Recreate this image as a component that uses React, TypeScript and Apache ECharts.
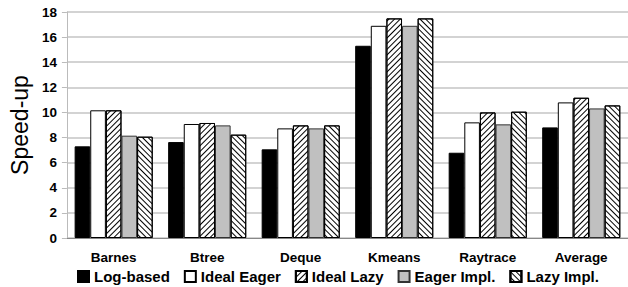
import React, { useEffect, useRef } from "react";
import * as echarts from "echarts";

const categories = ["Barnes", "Btree", "Deque", "Kmeans", "Raytrace", "Average"];
const logBased = [7.3, 7.64, 7.06, 15.31, 6.79, 8.81];
const idealEager = [10.17, 9.08, 8.73, 16.9, 9.21, 10.8];
const idealLazy = [10.17, 9.16, 8.97, 17.49, 10.0, 11.17];
const eagerImpl = [8.15, 8.97, 8.73, 16.9, 9.05, 10.32];
const lazyImpl = [8.07, 8.23, 8.97, 17.49, 10.06, 10.56];
const yTicks = [0, 2, 4, 6, 8, 10, 12, 14, 16, 18];

const FONT = "'Liberation Sans', Arial, sans-serif";

export default function App() {
  const ref = useRef<HTMLDivElement>(null);
  useEffect(() => {
    if (!ref.current) return;
    const chart = echarts.init(ref.current, null, { renderer: "svg" });
    const stripe = (rot: number) => ({
      symbol: "rect",
      symbolSize: 1,
      dashArrayX: [1, 0],
      dashArrayY: [1, 3],
      rotation: rot,
      color: "#000",
    });
    const base = {
      type: "bar",
      barGap: "0%",
      barCategoryGap: "16.5%",
    };
    chart.setOption({
      animation: false,
      textStyle: { fontFamily: FONT },
      grid: { left: 62, right: 0, top: 12, bottom: 49 },
      legend: {
        left: 72,
        top: 264,
        icon: "rect",
        itemWidth: 11,
        itemHeight: 11,
        itemGap: 14,
        textStyle: { fontFamily: FONT, fontWeight: "bold", fontSize: 15, color: "#000" },
        data: ["Log-based", "Ideal Eager", "Ideal Lazy", "Eager Impl.", "Lazy Impl."],
      },
      xAxis: {
        type: "category",
        data: categories,
        axisLine: { lineStyle: { color: "#888", width: 1 } },
        axisTick: { alignWithLabel: true, length: 5, lineStyle: { color: "#aaa" } },
        axisLabel: { fontFamily: FONT, fontWeight: "bold", fontSize: 13.5, color: "#000", margin: 12 },
      },
      yAxis: {
        type: "value",
        min: 0,
        max: 18,
        interval: 2,
        name: "Speed-up",
        nameLocation: "middle",
        nameGap: 33,
        nameTextStyle: { fontFamily: FONT, fontSize: 23, color: "#000" },
        axisLine: { show: true, lineStyle: { color: "#bbb", width: 1 } },
        axisTick: { show: true, length: 5, lineStyle: { color: "#bbb" } },
        axisLabel: {
          fontFamily: FONT,
          fontWeight: "bold",
          fontSize: 13.5,
          color: "#000",
          margin: 10,
          formatter: (v: number) => (yTicks.includes(v) ? String(v) : ""),
        },
        splitLine: { lineStyle: { color: "#c4c4c4", width: 1.5 } },
      },
      series: [
        { ...base, name: "Log-based", data: logBased, itemStyle: { color: "#000", borderColor: "#000", borderWidth: 1 } },
        { ...base, name: "Ideal Eager", data: idealEager, itemStyle: { color: "#fff", borderColor: "#000", borderWidth: 1 } },
        { ...base, name: "Ideal Lazy", data: idealLazy, itemStyle: { color: "#fff", borderColor: "#000", borderWidth: 1, decal: stripe(-Math.PI / 4) } },
        { ...base, name: "Eager Impl.", data: eagerImpl, itemStyle: { color: "#c0c0c0", borderColor: "#333", borderWidth: 1 } },
        { ...base, name: "Lazy Impl.", data: lazyImpl, itemStyle: { color: "#fff", borderColor: "#000", borderWidth: 1, decal: stripe(Math.PI / 4) } },
      ],
    });
    return () => chart.dispose();
  }, []);
  return <div ref={ref} style={{ width: 628, height: 287, position: "absolute", left: 0, top: 0 }} />;
}
